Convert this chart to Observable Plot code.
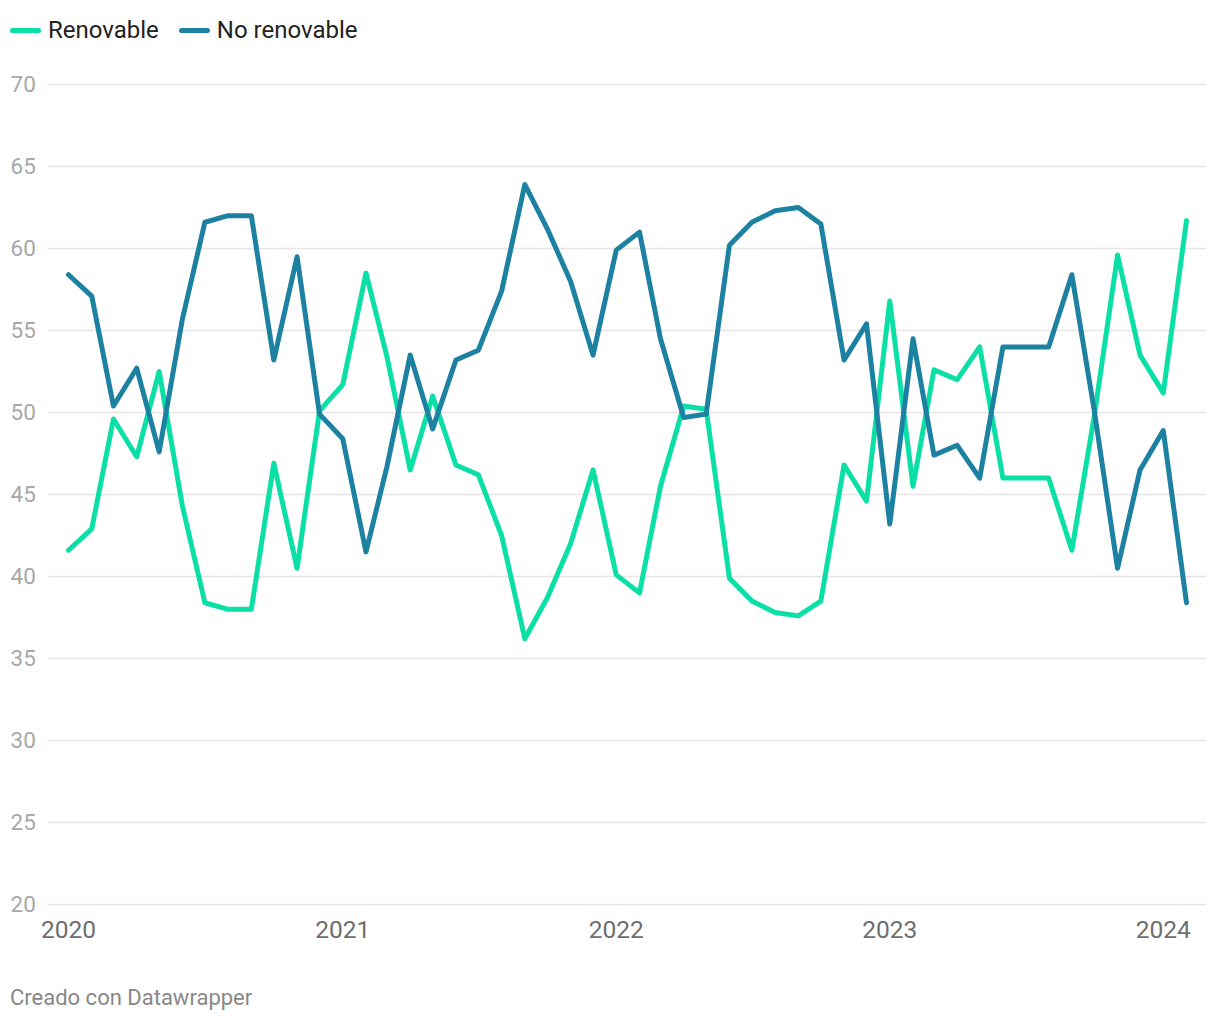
<!DOCTYPE html>
<html>
<head>
<meta charset="utf-8">
<script src="https://cdn.jsdelivr.net/npm/d3@7"></script>
<script src="https://cdn.jsdelivr.net/npm/@observablehq/plot@0.6"></script>
<style>
  html, body { margin: 0; padding: 0; background: #fff; }
  body { width: 1220px; height: 1020px; position: relative; font-family: Roboto, "Noto Sans", sans-serif; overflow: hidden; }
  #legend { position: absolute; left: 10px; top: 16px; display: flex; align-items: center; font-size: 24px; color: #222; line-height: 28px; }
  .item { display: flex; align-items: center; margin-right: 20px; }
  .sw { display: inline-block; width: 31px; height: 5px; border-radius: 3px; margin-right: 7px; }
  #chart { position: absolute; left: 0; top: 60px; }
  #footer { position: absolute; left: 10px; top: 985px; font-size: 22px; color: #888; }
</style>
</head>
<body>
<div id="legend"></div>
<div id="chart"></div>
<div id="footer">Creado con Datawrapper</div>
<script>
const series = ["Renovable", "No renovable"];
const colors = ["#0adfa6", "#1d81a2"];

const months = [
  "2020-01","2020-02","2020-03","2020-04","2020-05","2020-06","2020-07","2020-08","2020-09","2020-10","2020-11","2020-12",
  "2021-01","2021-02","2021-03","2021-04","2021-05","2021-06","2021-07","2021-08","2021-09","2021-10","2021-11","2021-12",
  "2022-01","2022-02","2022-03","2022-04","2022-05","2022-06","2022-07","2022-08","2022-09","2022-10","2022-11","2022-12",
  "2023-01","2023-02","2023-03","2023-04","2023-05","2023-06","2023-07","2023-08","2023-09","2023-10","2023-11","2023-12",
  "2024-01","2024-02"
];

const renovable = [
  41.6, 42.9, 49.6, 47.3, 52.5, 44.3, 38.4, 38.0, 38.0, 46.9, 40.5, 50.1,
  51.7, 58.5, 53.4, 46.5, 51.0, 46.8, 46.2, 42.5, 36.2, 38.7, 42.0, 46.5,
  40.1, 39.0, 45.5, 50.4, 50.2, 39.9, 38.5, 37.8, 37.6, 38.5, 46.8, 44.6,
  56.8, 45.5, 52.6, 52.0, 54.0, 46.0, 46.0, 46.0, 41.6, 49.8, 59.6, 53.5,
  51.2, 61.7
];

const noRenovable = [
  58.4, 57.1, 50.4, 52.7, 47.6, 55.7, 61.6, 62.0, 62.0, 53.2, 59.5, 49.9,
  48.4, 41.5, 46.7, 53.5, 49.0, 53.2, 53.8, 57.4, 63.9, 61.2, 58.0, 53.5,
  59.9, 61.0, 54.5, 49.7, 49.9, 60.2, 61.6, 62.3, 62.5, 61.5, 53.2, 55.4,
  43.2, 54.5, 47.4, 48.0, 46.0, 54.0, 54.0, 54.0, 58.4, 50.1, 40.5, 46.5,
  48.9, 38.4
];

const yTicks = [20, 25, 30, 35, 40, 45, 50, 55, 60, 65, 70];
const xTickLabels = ["2020", "2021", "2022", "2023", "2024"];

const parse = d3.utcParse("%Y-%m");
const data = months.flatMap((m, i) => [
  {date: parse(m), value: renovable[i], serie: series[0]},
  {date: parse(m), value: noRenovable[i], serie: series[1]}
]);
const xTicks = xTickLabels.map(d => d3.utcParse("%Y")(d));

// legend
const legend = document.getElementById("legend");
series.forEach((s, i) => {
  const it = document.createElement("div");
  it.className = "item";
  it.innerHTML = `<span class="sw" style="background:${colors[i]}"></span><span>${s}</span>`;
  legend.appendChild(it);
});

const chart = Plot.plot({
  width: 1220,
  height: 900,
  marginTop: 24,
  marginBottom: 56,
  marginLeft: 48,
  marginRight: 14,
  style: {fontFamily: "Roboto, sans-serif", background: "transparent"},
  x: {type: "utc", domain: [parse(months[0]), parse(months[months.length - 1])], range: [68, 1186], label: null},
  y: {domain: [20, 70], range: [844, 24], label: null},
  color: {domain: series, range: colors},
  marks: [
    Plot.ruleY(yTicks, {stroke: "#e5e5e5", strokeWidth: 1.5}),
    Plot.axisY(yTicks, {tickSize: 0, tickPadding: 38, textAnchor: "start", fontSize: 22.5, color: "#a8a8a8", label: null}),
    Plot.axisX(xTicks, {tickSize: 0, tickPadding: 16, tickFormat: "%Y", fontSize: 24.5, color: "#6e6e6e", label: null}),
    Plot.line(data, {x: "date", y: "value", z: "serie", stroke: "serie", strokeWidth: 5, strokeLinejoin: "round", strokeLinecap: "round"})
  ]
});
document.getElementById("chart").appendChild(chart);
</script>
</body>
</html>
